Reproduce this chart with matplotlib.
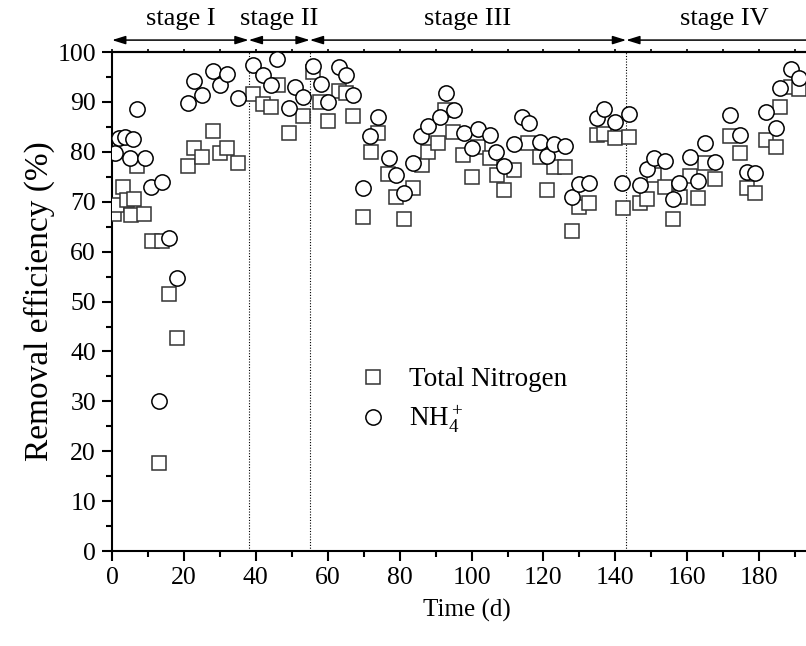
import matplotlib
matplotlib.use("Agg")
import matplotlib.pyplot as plt
from matplotlib.ticker import MultipleLocator

plt.rcParams['font.family'] = ['Liberation Serif', 'DejaVu Serif']
plt.rcParams['mathtext.fontset'] = 'custom'
plt.rcParams['mathtext.rm'] = 'Liberation Serif'
plt.rcParams['mathtext.it'] = 'Liberation Serif:italic'

# Total nitrogen removal (%)
tn_day = [0.5, 1.3, 3.1, 4.1, 5.2, 6.2, 7.0, 9.0, 11.0, 13.2, 13.8, 15.9, 18.0,
          21.1, 22.9, 25.0, 28.0, 30.0, 32.1, 35.0,
          39.1, 41.9, 44.1, 46.3, 49.1, 53.1,
          56.0, 57.9, 60.0, 63.0, 65.1, 67.0, 69.9, 71.9, 73.9, 76.8, 78.9,
          81.1, 83.8, 86.3, 88.0, 90.8, 92.7, 94.8, 97.7, 100.1, 101.9,
          105.0, 107.0, 108.9, 111.9, 115.8, 118.9, 121.0, 122.8, 125.9,
          127.9, 129.8, 132.8, 134.9, 136.7, 140.0, 142.1,
          143.9, 146.9, 148.9, 150.8, 153.9, 155.9, 158.0, 160.8, 162.9,
          165.0, 167.8, 171.8, 174.7, 176.6, 178.9, 181.9, 184.8, 185.9,
          188.8, 191.0]
tn_val = [67.5, 69.3, 72.9, 70.3, 67.3, 70.5, 77.2, 67.5, 62.2, 17.7, 62.2, 51.6, 42.7,
          77.2, 80.7, 79.0, 84.2, 79.7, 80.7, 77.8,
          91.5, 89.5, 89.0, 93.4, 83.8, 87.2,
          96.0, 90.0, 86.2, 92.2, 91.7, 87.2, 67.0, 79.9, 83.8, 75.6, 70.9,
          66.5, 72.8, 77.4, 79.9, 81.7, 88.4, 84.0, 79.4, 74.9, 81.0,
          78.7, 75.4, 72.3, 76.4, 81.7, 79.0, 72.3, 77.0, 76.9,
          64.2, 69.0, 69.7, 83.4, 83.6, 82.7, 68.7,
          82.9, 69.7, 70.5, 75.4, 73.0, 66.5, 71.0, 75.2, 70.7,
          77.7, 74.5, 83.2, 79.7, 72.7, 71.7, 82.4, 81.0, 88.9,
          92.9, 92.5]

# NH4+ removal (%)
nh_day = [0.8, 1.8, 3.6, 5.0, 5.9, 7.0, 9.1, 10.9, 13.1, 14.0, 15.9, 18.0,
          21.1, 22.9, 25.0, 28.0, 30.0, 32.1, 35.0,
          39.1, 42.0, 44.1, 45.8, 49.1, 50.9, 53.0,
          56.0, 58.1, 60.2, 63.0, 65.1, 67.1, 69.9, 71.8, 73.9, 76.9, 78.9,
          81.1, 83.8, 85.9, 88.0, 91.1, 92.9, 95.0, 97.9, 100.1, 101.9,
          105.0, 106.8, 108.9, 111.9, 114.0, 116.0, 118.9, 121.0, 122.8, 125.9,
          127.9, 129.8, 132.8, 134.9, 136.9, 140.0, 141.8,
          143.9, 146.9, 148.9, 150.8, 153.9, 155.9, 157.8, 160.8, 162.9,
          165.0, 167.8, 171.8, 174.7, 176.6, 178.9, 181.9, 184.8, 185.9,
          188.8, 191.0]
nh_val = [79.7, 82.7, 83.0, 78.7, 82.5, 88.5, 78.7, 73.0, 30.1, 74.0, 62.7, 54.8,
          89.8, 94.2, 91.4, 96.2, 93.5, 95.7, 90.8,
          97.5, 95.4, 93.3, 98.7, 88.8, 92.9, 91.0,
          97.3, 93.6, 90.0, 97.0, 95.5, 91.4, 72.8, 83.1, 87.0, 78.8, 75.4,
          71.8, 77.7, 83.2, 85.2, 87.0, 91.8, 88.4, 83.7, 80.7, 84.6,
          83.4, 80.0, 77.2, 81.6, 87.0, 85.7, 82.0, 79.2, 81.6, 81.2,
          70.9, 73.5, 73.8, 86.7, 88.5, 86.0, 73.7,
          87.6, 73.3, 76.6, 78.7, 78.2, 70.5, 73.7, 79.0, 74.1,
          81.8, 78.0, 87.4, 83.4, 75.9, 75.7, 88.0, 84.7, 92.8,
          96.7, 94.9]

# operating stages (last stage runs past the cropped right edge)
stage_names = ['stage I', 'stage II', 'stage III', 'stage IV']
stage_bounds = [0, 38, 55, 143, 197.5]

fig = plt.figure(figsize=(8.06, 6.46), dpi=100)
# axes is a bit wider than the figure: the right side of the original is cut off
ax = fig.add_axes([0.139, 0.147, 0.881, 0.7724])

ax.plot(tn_day, tn_val, 's', mfc='white', mec='#333333', ms=10, mew=1.1,
        ls='none', label='Total Nitrogen', zorder=3)
ax.plot(nh_day, nh_val, 'o', mfc='white', mec='black', ms=11, mew=1.1,
        ls='none', label='NH$_4^+$', zorder=4)

for b in stage_bounds[1:-1]:
    ax.axvline(b, color='black', lw=0.8, ls=(0, (1, 1.5)), zorder=1)

trans = ax.get_xaxis_transform()
for i, name in enumerate(stage_names):
    x0, x1 = stage_bounds[i], stage_bounds[i + 1]
    ax.annotate('', xy=(x1, 1.024), xytext=(x0, 1.024),
                xycoords=trans, textcoords=trans, annotation_clip=False,
                arrowprops=dict(arrowstyle='<|-|>,head_length=0.8,head_width=0.25',
                                color='black', lw=1.1, shrinkA=0, shrinkB=0))
    ax.text((x0 + x1) / 2, 1.066, name, transform=trans, ha='center',
            va='center', fontsize=19)

ax.set_xlim(0, 197.5)
ax.set_ylim(0, 100)
ax.xaxis.set_major_locator(MultipleLocator(20))
ax.xaxis.set_minor_locator(MultipleLocator(10))
ax.yaxis.set_major_locator(MultipleLocator(10))
ax.yaxis.set_minor_locator(MultipleLocator(5))
ax.tick_params(which='major', direction='out', length=7.5, width=1.5,
               labelsize=18.5, pad=4)
ax.tick_params(which='minor', direction='out', length=4, width=1.5)

# tiny ticks on the top spine
top = ax.secondary_xaxis('top')
top.xaxis.set_major_locator(MultipleLocator(10))
top.tick_params(length=2, width=1.2, labeltop=False)
top.spines['top'].set_linewidth(1.5)

for side in ['left', 'bottom', 'top']:
    ax.spines[side].set_linewidth(1.5)

ax.set_xlabel('Time (d)', fontsize=18, labelpad=7)
ax.set_ylabel('Removal efficiency (%)', fontsize=24, labelpad=2)

ax.legend(loc='upper left', bbox_to_anchor=(0.33, 0.395), frameon=False,
          fontsize=19.5, borderpad=0, handlelength=1.0, handletextpad=0.8,
          labelspacing=0.4, markerscale=1.0)

fig.savefig('out.png', dpi=100)
